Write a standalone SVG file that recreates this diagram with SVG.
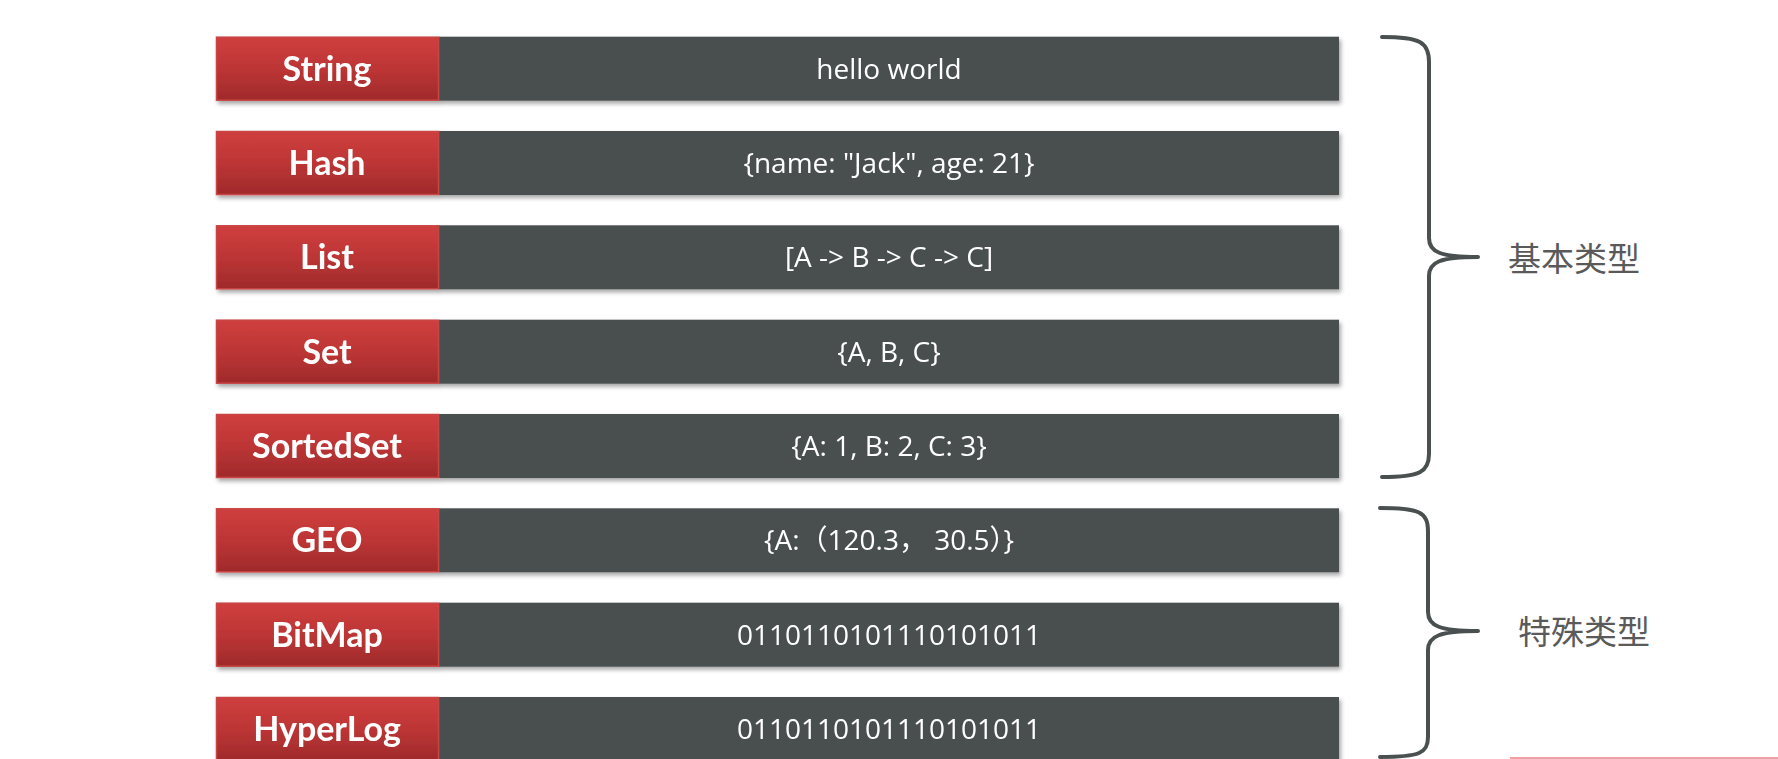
<svg xmlns="http://www.w3.org/2000/svg" width="1778" height="759" viewBox="0 0 1778 759">
<style>
.lbl{font-family:Lato,"Open Sans","Liberation Sans",sans-serif;font-weight:bold;font-size:34px;fill:#ffffff;text-anchor:middle}
.val{font-family:"Open Sans","Liberation Sans","Noto Sans CJK SC",sans-serif;font-size:28px;fill:#ffffff;text-anchor:middle}
.cat{font-family:"Noto Sans CJK SC",sans-serif;font-size:33px;fill:#5a5a5a;text-anchor:start}
.red{fill:url(#rg);stroke:#c94545;stroke-width:1.5}
.dark{fill:#4a5050}
.brace{fill:none;stroke:#4a5050;stroke-width:4;stroke-linecap:round;stroke-linejoin:round}
</style>
<defs>
<linearGradient id="rg" x1="0" y1="0" x2="0" y2="1">
<stop offset="0" stop-color="#cf3f3e"/>
<stop offset="0.5" stop-color="#bd3535"/>
<stop offset="1" stop-color="#9f2a2b"/>
</linearGradient>
<filter id="sh" x="-5%" y="-20%" width="110%" height="150%">
<feDropShadow dx="2" dy="3" stdDeviation="2" flood-color="#000" flood-opacity="0.35"/>
</filter>
</defs>
<rect width="1778" height="759" fill="#ffffff"/>
<g id="row-string" filter="url(#sh)" transform="translate(0,36.7)">
<rect class="dark" x="439" y="0" width="900" height="64"/>
<rect class="red" x="216.5" y="0.5" width="222" height="63"/>
<text class="lbl" x="327" y="44">String</text>
<text class="val" x="889" y="42">hello world</text>
</g>
<g id="row-hash" filter="url(#sh)" transform="translate(0,131)">
<rect class="dark" x="439" y="0" width="900" height="64"/>
<rect class="red" x="216.5" y="0.5" width="222" height="63"/>
<text class="lbl" x="327" y="44">Hash</text>
<text class="val" x="889" y="42">{name: "Jack", age: 21}</text>
</g>
<g id="row-list" filter="url(#sh)" transform="translate(0,225.3)">
<rect class="dark" x="439" y="0" width="900" height="64"/>
<rect class="red" x="216.5" y="0.5" width="222" height="63"/>
<text class="lbl" x="327" y="44">List</text>
<text class="val" x="889" y="42">[A -&gt; B -&gt; C -&gt; C]</text>
</g>
<g id="row-set" filter="url(#sh)" transform="translate(0,319.7)">
<rect class="dark" x="439" y="0" width="900" height="64"/>
<rect class="red" x="216.5" y="0.5" width="222" height="63"/>
<text class="lbl" x="327" y="44">Set</text>
<text class="val" x="889" y="42">{A, B, C}</text>
</g>
<g id="row-sortedset" filter="url(#sh)" transform="translate(0,414)">
<rect class="dark" x="439" y="0" width="900" height="64"/>
<rect class="red" x="216.5" y="0.5" width="222" height="63"/>
<text class="lbl" x="327" y="44">SortedSet</text>
<text class="val" x="889" y="42">{A: 1, B: 2, C: 3}</text>
</g>
<g id="row-geo" filter="url(#sh)" transform="translate(0,508.3)">
<rect class="dark" x="439" y="0" width="900" height="64"/>
<rect class="red" x="216.5" y="0.5" width="222" height="63"/>
<text class="lbl" x="327" y="44">GEO</text>
<text class="val" x="889" y="42">{A:（120.3， 30.5）}</text>
</g>
<g id="row-bitmap" filter="url(#sh)" transform="translate(0,602.7)">
<rect class="dark" x="439" y="0" width="900" height="64"/>
<rect class="red" x="216.5" y="0.5" width="222" height="63"/>
<text class="lbl" x="327" y="44">BitMap</text>
<text class="val" x="889" y="42">0110110101110101011</text>
</g>
<g id="row-hyperlog" filter="url(#sh)" transform="translate(0,697)">
<rect class="dark" x="439" y="0" width="900" height="64"/>
<rect class="red" x="216.5" y="0.5" width="222" height="63"/>
<text class="lbl" x="327" y="44">HyperLog</text>
<text class="val" x="889" y="42">0110110101110101011</text>
</g>
<g id="connectors">
<path class="brace" d="M1382,37 C1420,37 1429,42 1429,62 L1429,238 C1429,252 1440,257 1478,257 C1440,257 1429,262 1429,276 L1429,454 C1429,472 1420,477 1382,477"/>
<path class="brace" d="M1380,508 C1420,508 1428,512 1428,532 L1428,612 C1428,626 1440,631 1478,631 C1440,631 1428,636 1428,650 L1428,737 C1428,753 1420,757 1380,757"/>
</g>
<g id="cat-basic"><text class="cat" x="1508" y="271">基本类型</text></g>
<g id="cat-special"><text class="cat" x="1518" y="644">特殊类型</text></g>
<line x1="1510" y1="758" x2="1778" y2="758" stroke="#f0a0a0" stroke-width="2"/>
</svg>
